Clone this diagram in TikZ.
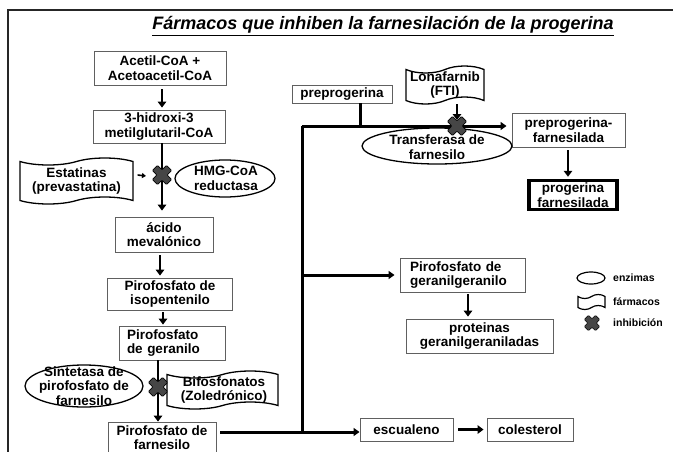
\documentclass[tikz,border=0pt]{standalone}
\usepackage{fontspec}
\setmainfont{Liberation Sans}
\usetikzlibrary{shapes.geometric,shapes.symbols,arrows.meta}
\begin{document}
\begin{tikzpicture}[x=1pt,y=-1pt,
  txt/.style={font=\bfseries\fontsize{13.5}{14.5}\selectfont, align=center, inner sep=0pt},
  box/.style={txt, draw=gray!75!black, line width=0.9pt, fill=white},
  lbox/.style={box, align=left},
  enz/.style={ellipse, draw=black, line width=1.3pt, fill=white, inner sep=0pt},
  drug/.style={tape, draw=black, line width=1.3pt, fill=white, inner sep=0pt, tape bend height=7pt},
  arr/.style={line width=2.6pt, -{Triangle[length=6pt,width=8.5pt]}},
  ln/.style={line width=3pt},
  legtxt/.style={font=\bfseries\fontsize{10.5}{12}\selectfont, anchor=west, inner sep=0pt},
  inhib/.pic={\filldraw[fill=gray!55!black, draw=black, line width=0.7pt, rotate=45, rounded corners=1pt]
     (3.6,3.6) -- (10,3.6) -- (10,-3.6) -- (3.6,-3.6) -- (3.6,-10) -- (-3.6,-10) -- (-3.6,-3.6)
     -- (-10,-3.6) -- (-10,3.6) -- (-3.6,3.6) -- (-3.6,10) -- (3.6,10) -- cycle;},
  inhibs/.pic={\filldraw[fill=gray!55!black, draw=black, line width=0.6pt, rotate=45, rounded corners=1pt]
     (3,3) -- (8,3) -- (8,-3) -- (3,-3) -- (3,-8) -- (-3,-8) -- (-3,-3)
     -- (-8,-3) -- (-8,3) -- (-3,3) -- (-3,8) -- (3,8) -- cycle;}
]
\clip (0,0) rectangle (673,451);
\fill[white] (0,0) rectangle (673,451);
\draw[line width=1.6pt, gray!30!black] (8,480) -- (8,10) -- (700,10);

% title
\node[inner sep=0pt] (title) at (383,26) {\fontsize{18}{20}\selectfont\bfseries\itshape\underline{Fármacos que inhiben la farnesilación de la progerina}};

% left column
\node[box, minimum width=132, minimum height=34] (acetil) at (160,68) {Acetil-CoA +\\Acetoacetil-CoA};
\node[box, minimum width=132, minimum height=33] (hidroxi) at (159,126.5) {3-hidroxi-3\\metilglutaril-CoA};
\node[box, minimum width=98, minimum height=35] (acido) at (164,234.5) {ácido\\mevalónico};
\node[box, minimum width=125, minimum height=32] (isopent) at (170,294) {Pirofosfato de\\isopentenilo};
\node[lbox, text width=90, inner xsep=8pt, minimum height=34] (geranilo) at (172,343) {Pirofosfato\\de geranilo};
\node[box, minimum width=108, minimum height=31] (farnesilo) at (162,437.5) {Pirofosfato de\\farnesilo};

\coordinate (X1) at (162,175);
\coordinate (X3) at (158,387);

\draw[arr, shorten <=4pt, shorten >=2pt] (acetil.south -| X1) -- (hidroxi.north -| X1);
\draw[arr, shorten >=6pt] (hidroxi.south -| X1) -- (acido.north -| X1);
\draw[arr, shorten <=3pt, shorten >=2pt] (acido.south -| 160,0) -- (isopent.north -| 160,0);
\draw[arr, shorten <=2pt, shorten >=1pt] (isopent.south -| 163,0) -- (geranilo.north -| 163,0);
\draw[arr] (geranilo.south -| X3) -- (farnesilo.north -| X3);

\node[drug, minimum width=113, minimum height=46] (estat) at (76.5,181) {};
\node[txt] (estatT) at (76.5,181) {Estatinas\\(prevastatina)};
\node[enz, minimum width=100, minimum height=37] (hmg) at (225,178.5) {};
\node[txt] (hmgT) at (226,178.5) {HMG-CoA\\reductasa};
\draw[line width=1.6pt, -{Triangle[length=4pt,width=5pt]}] (estat.east |- X1) ++(4,0) coordinate (s1) -- (146,176);
\pic at (X1) {inhib};

\node[enz, minimum width=118, minimum height=42] (sint) at (84,386) {};
\node[txt] (sintT) at (84,386) {Sintetasa de\\pirofosfato de\\farnesilo};
\node[drug, minimum width=111, minimum height=38] (bifos) at (222.5,390) {};
\node[txt] (bifosT) at (224,390) {Bifosfonatos\\(Zoledrónico)};
\pic at (X3) {inhib};

% trunk
\coordinate (top) at (302,126);
\coordinate (J) at (302,432);
\coordinate (P) at (360,126);
\coordinate (X2) at (457,126);

\node[box, minimum width=100, minimum height=18] (preprog) at (342,94) {preprogerina};
\node[box, minimum width=113, minimum height=34] (prefarn) at (568.5,130) {preprogerina-\\farnesilada};
\node[box, line width=3.5pt, draw=black, minimum width=88, minimum height=29] (progfarn) at (573,195) {progerina\\farnesilada};
\node[lbox, text width=105, inner xsep=10pt, minimum height=34] (gg) at (462.5,275) {Pirofosfato de\\geranilgeranilo};
\node[box, minimum width=147, minimum height=34] (prot) at (479.5,336) {proteinas\\geranilgeraniladas};
\node[box, minimum width=93, minimum height=23] (esc) at (406.5,429.5) {escualeno};
\node[box, minimum width=86, minimum height=23] (col) at (530,429.5) {colesterol};

\draw[ln] (J) -- (top);
\draw[ln, -{Triangle[length=6pt,width=8pt]}, shorten >=5pt] (top) -- (top -| prefarn.west);
\draw[ln] (preprog.south -| P) -- (P);
\draw[ln, -{Triangle[length=6pt,width=8pt]}, shorten >=5pt] (302,275) coordinate (G) -- (G -| gg.west);
\draw[ln, -{Triangle[length=6pt,width=8pt]}, shorten <=4pt] (J -| farnesilo.east) -- (J -| esc.west);
\draw[arr, shorten <=5pt, shorten >=3pt] (esc.east) -- (col.west);
\draw[arr, shorten <=3pt, shorten >=2pt] (prefarn.south -| 568,0) -- (progfarn.north -| 568,0);
\draw[arr, shorten <=2pt, shorten >=2pt] (gg.south -| 468,0) -- (prot.north -| 468,0);

\node[enz, minimum width=150, minimum height=36] (transf) at (437,146) {};
\node[txt] (transfT) at (437,147) {Transferasa de\\farnesilo};
\node[drug, minimum width=78, minimum height=38] (lona) at (445,85) {};
\node[txt] (lonaT) at (445,85) {Lonafarnib\\(FTI)};
\draw[arr, shorten <=3pt, shorten >=6pt] (lona.south -| X2) -- (X2);
\pic at (X2) {inhib};

% legend
\node[enz, line width=1.2pt, minimum width=28, minimum height=12] (legE) at (591,278) {};
\node[legtxt] (legET) at (613,278) {enzimas};
\node[drug, line width=1.2pt, tape bend height=4pt, minimum width=27, minimum height=15] (legD) at (591.5,302) {};
\node[legtxt] (legDT) at (613,302) {fármacos};
\pic at (592,323) {inhibs};
\node[legtxt] (legIT) at (613,323) {inhibición};
\end{tikzpicture}
\end{document}
